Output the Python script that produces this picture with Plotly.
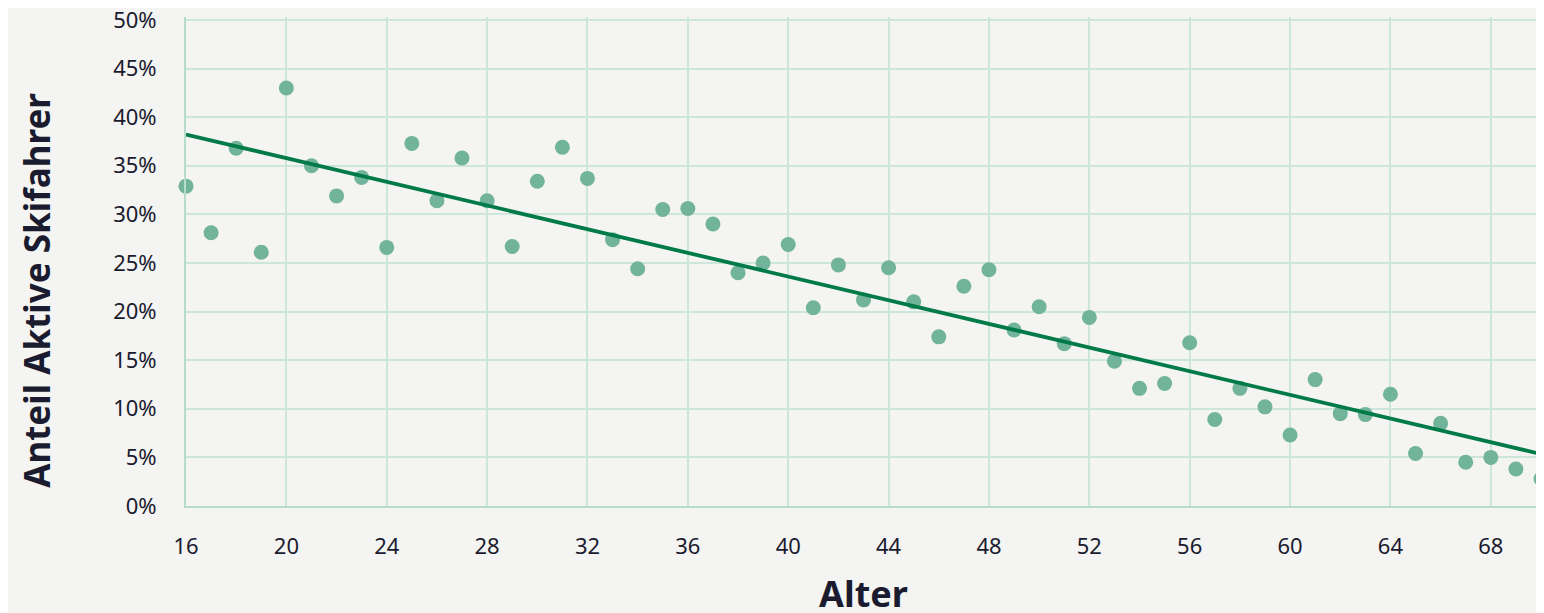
import numpy as np
import plotly.graph_objects as go

alter = list(range(16, 71))
anteil = [32.9, 28.1, 36.8, 26.1, 43.0, 35.0, 31.9, 33.8, 26.6, 37.3,
          31.4, 35.8, 31.4, 26.7, 33.4, 36.9, 33.7, 27.4, 24.4, 30.5,
          30.6, 29.0, 24.0, 25.0, 26.9, 20.4, 24.8, 21.2, 24.5, 21.0,
          17.4, 22.6, 24.3, 18.1, 20.5, 16.7, 19.4, 14.9, 12.1, 12.6,
          16.8, 8.9, 12.1, 10.2, 7.3, 13.0, 9.5, 9.4, 11.5, 5.4,
          8.5, 4.5, 5.0, 3.8, 2.8]

x_ticks = list(range(16, 70, 4))
y_ticks = list(range(0, 51, 5))

slope, intercept = np.polyfit(alter, anteil, 1)
trend_x = [16, 70]
trend_y = [intercept + slope * x for x in trend_x]

font_family = "Noto Sans"
text_color = "#1b1b2f"
grid_color = "#CDE6DC"

fig = go.Figure()
fig.add_trace(go.Scatter(
    x=alter, y=anteil, mode="markers",
    marker=dict(color="#72B39C", size=15, line=dict(width=0)),
    showlegend=False, cliponaxis=False,
))
fig.add_trace(go.Scatter(
    x=trend_x, y=trend_y, mode="lines",
    line=dict(color="#007A48", width=3.8),
    showlegend=False,
))

fig.update_layout(
    width=1536, height=605,
    paper_bgcolor="#F4F4F2", plot_bgcolor="#F4F4F2",
    margin=dict(l=178, r=3, t=9, b=107),
    font=dict(family=font_family, color=text_color, size=23),
    annotations=[
        dict(
            text="<b>Anteil Aktive Skifahrer</b>", textangle=-90,
            xref="paper", yref="paper", x=0, y=0.44, xshift=-149,
            xanchor="center", yanchor="middle", showarrow=False,
            font=dict(size=35, color=text_color),
        ),
        dict(
            text="<b>Alter</b>",
            xref="paper", yref="paper", x=0.5, y=0, yshift=-87,
            xanchor="center", yanchor="middle", showarrow=False,
            font=dict(size=36, color=text_color),
        ),
    ],
)
fig.update_xaxes(
    range=[16, 70], tickvals=x_ticks, ticktext=[str(v) for v in x_ticks],
    showgrid=True, gridcolor=grid_color, gridwidth=2,
    showline=True, linecolor="#B7DCCB", linewidth=2,
    zeroline=False, ticks="", ticklabelstandoff=20,
    tickfont=dict(size=22, color=text_color),
    automargin=False,
)
fig.update_yaxes(
    range=[0, 50.3], tickvals=y_ticks, ticktext=[f"{v}%" for v in y_ticks],
    showgrid=True, gridcolor=grid_color, gridwidth=2,
    showline=True, linecolor="#B7DCCB", linewidth=2,
    zeroline=False, ticks="", ticklabelstandoff=23,
    ticklabeloverflow="allow",
    tickfont=dict(size=22, color=text_color),
    automargin=False,
)

fig.write_html("out.html")
